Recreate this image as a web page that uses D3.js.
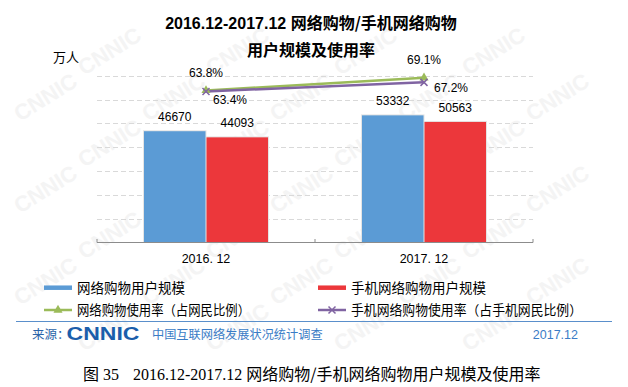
<!DOCTYPE html>
<html lang="zh">
<head>
  <meta charset="utf-8">
  <title>网络购物/手机网络购物用户规模及使用率</title>
  <script src="https://d3js.org/d3.v7.min.js" charset="utf-8"></script>
  <style type="text/css">
    body { margin: 0; background: #fff; }
    text { font-family: "Liberation Sans", Arial, "Noto Sans CJK SC", sans-serif; }
    .cjk { font-family: "Noto Sans CJK SC", sans-serif; }
  </style>
</head>
<body>
  <svg id="chart" width="628" height="387" xmlns="http://www.w3.org/2000/svg"></svg>
  <script type="text/javascript">
    // data
    var categories = ['2016. 12', '2017. 12'];
    var barSeries = ['网络购物用户规模', '手机网络购物用户规模'];
    var shopUsers = [46670, 53332];
    var mobileShopUsers = [44093, 50563];
    var lineSeries = ['网络购物使用率（占网民比例）', '手机网络购物使用率（占手机网民比例）'];
    var shopRate = [63.8, 69.1];
    var mobileShopRate = [63.4, 67.2];
    var yTicks = [0, 10000, 20000, 30000, 40000, 50000, 60000, 70000];

    var barColors = ['#5b9bd5', '#ec373b'];
    var lineColors = ['#9bbb59', '#8064a2'];

    var svg = d3.select('#chart');

    // watermark, only the copies that sit fully inside the picture
    var wm = svg.append('g');
    for (var r = -1; r < 10; r++) {
      for (var c = -1; c < 6; c++) {
        var wx = c * 128 + (r % 2 ? 64 : 0) + 20;
        var wy = r * 46 + 30;
        var t = wm.append('text')
          .attr('transform', 'translate(' + wx + ',' + wy + ') rotate(-32)')
          .attr('font-size', '22px')
          .attr('font-weight', 'bold')
          .style('fill', '#f4f4f4')
          .text('CNNIC');
        var b = t.node().getBoundingClientRect();
        if (b.left < 0 || b.top < 0 || b.right > 628 || b.bottom > 387) t.remove();
      }
    }

    var x0 = d3.scaleBand().domain(categories).range([97, 533]);
    var groupW = 124;
    var x1 = d3.scaleBand().domain(barSeries).range([0, groupW]).paddingInner(0.016);
    var y = d3.scaleLinear().domain([0, 70000]).range([242.3, 75.7]);
    var y2 = d3.scaleLinear().domain([0, 70]).range([242.3, 75.7]);

    // grid
    svg.append('g').selectAll('line')
      .data(yTicks.slice(1))
      .enter().append('line')
      .attr('x1', 97).attr('x2', 533)
      .attr('y1', function(d) { return Math.round(y(d)) + 0.5; })
      .attr('y2', function(d) { return Math.round(y(d)) + 0.5; })
      .style('stroke', '#d9d9d9')
      .style('stroke-dasharray', '5,3');

    // bars
    var barData = [shopUsers, mobileShopUsers];
    var groups = svg.append('g').selectAll('g')
      .data(categories)
      .enter().append('g')
      .attr('transform', function(d) { return 'translate(' + (x0(d) + (x0.bandwidth() - groupW) / 2) + ',0)'; });

    function rows(d, i) {
      return barSeries.map(function(s, j) { return { s: s, v: barData[j][i], j: j }; });
    }

    groups.selectAll('rect.shadow')
      .data(rows)
      .enter().append('rect')
      .attr('x', function(d) { return x1(d.s) - 1; })
      .attr('y', function(d) { return y(d.v) - 1; })
      .attr('width', x1.bandwidth() + 2)
      .attr('height', function(d) { return y(0) - y(d.v) + 1; })
      .style('fill', '#e4e4e4');

    groups.selectAll('rect.bar')
      .data(rows)
      .enter().append('rect')
      .attr('x', function(d) { return x1(d.s); })
      .attr('y', function(d) { return y(d.v); })
      .attr('width', x1.bandwidth())
      .attr('height', function(d) { return y(0) - y(d.v); })
      .style('fill', function(d) { return barColors[d.j]; });

    groups.selectAll('text.val')
      .data(rows)
      .enter().append('text')
      .attr('x', function(d) { return x1(d.s) + x1.bandwidth() / 2; })
      .attr('y', function(d) { return y(d.v) - 10; })
      .attr('text-anchor', 'middle')
      .attr('font-size', '12px')
      .style('fill', '#000')
      .text(function(d) { return d.v; });

    // axis
    var axisG = svg.append('g').attr('transform', 'translate(0,' + 242.5 + ')');
    axisG.append('line').attr('x1', 97).attr('x2', 533).style('stroke', '#8c8c8c').style('stroke-width', 1.2);
    axisG.selectAll('line.tick')
      .data([97, x0(categories[1]), 533])
      .enter().append('line')
      .attr('x1', function(d) { return d; }).attr('x2', function(d) { return d; })
      .attr('y1', -3.5).attr('y2', 0)
      .style('stroke', '#8c8c8c');
    axisG.selectAll('text')
      .data(categories)
      .enter().append('text')
      .attr('x', function(d) { return x0(d) + x0.bandwidth() / 2; })
      .attr('y', 20)
      .attr('text-anchor', 'middle')
      .attr('font-size', '12.5px')
      .style('fill', '#000')
      .text(function(d) { return d; });

    // lines
    var lineData = [shopRate, mobileShopRate];
    var line = d3.line()
      .x(function(d, i) { return x0(categories[i]) + x0.bandwidth() / 2; })
      .y(function(d) { return y2(d); });
    lineData.forEach(function(vals, j) {
      svg.append('path')
        .attr('d', line(vals))
        .style('fill', 'none')
        .style('stroke', lineColors[j])
        .style('stroke-width', 2.5);
    });

    function marker(g, j, cx, cy) {
      if (j === 0) {
        g.append('path')
          .attr('d', d3.symbol().type(d3.symbolTriangle).size(36)())
          .attr('transform', 'translate(' + cx + ',' + cy + ')')
          .style('fill', lineColors[0]);
      } else {
        g.append('path')
          .attr('d', 'M-3.5,-3.5L3.5,3.5M-3.5,3.5L3.5,-3.5')
          .attr('transform', 'translate(' + cx + ',' + cy + ')')
          .style('stroke', lineColors[1])
          .style('stroke-width', 1.5);
      }
    }
    var mk = svg.append('g');
    lineData.forEach(function(vals, j) {
      vals.forEach(function(v, i) {
        marker(mk, j, x0(categories[i]) + x0.bandwidth() / 2, y2(v));
      });
    });

    // rate labels: green above, purple below-right
    var lab = svg.append('g').attr('font-size', '12px').style('fill', '#000');
    shopRate.forEach(function(v, i) {
      lab.append('text')
        .attr('x', x0(categories[i]) + x0.bandwidth() / 2)
        .attr('y', y2(v) - 13.5)
        .attr('text-anchor', 'middle')
        .text(v.toFixed(1) + '%');
    });
    mobileShopRate.forEach(function(v, i) {
      lab.append('text')
        .attr('x', x0(categories[i]) + x0.bandwidth() / 2 + (i === 0 ? 7 : 10))
        .attr('y', y2(v) + (i === 0 ? 12.6 : 10))
        .text(v.toFixed(1) + '%');
    });

    // titles
    var title = svg.append('g').style('fill', '#000').attr('font-weight', 'bold').attr('font-size', '16px');
    var t1 = title.append('text').attr('x', 311).attr('y', 29).attr('text-anchor', 'middle');
    t1.append('tspan').text('2016.12-2017.12 ');
    t1.append('tspan').attr('class', 'cjk').text('网络购物/手机网络购物');
    title.append('text').attr('class', 'cjk').attr('x', 311).attr('y', 56).attr('text-anchor', 'middle').text('用户规模及使用率');

    svg.append('text').attr('class', 'cjk').attr('x', 53).attr('y', 62)
      .attr('font-size', '13px').style('fill', '#000').text('万人');

    // legend
    var legPos = [[44, 287.7], [318, 287.7], [44, 310], [318, 310]];
    var leg = svg.append('g');
    barSeries.forEach(function(s, j) {
      var p = legPos[j];
      leg.append('line').attr('x1', p[0]).attr('x2', p[0] + 28).attr('y1', p[1]).attr('y2', p[1])
        .style('stroke', barColors[j]).style('stroke-width', 4.5);
      leg.append('text').attr('class', 'cjk').attr('x', p[0] + 33).attr('y', p[1] + 4.8)
        .attr('font-size', '13.5px').style('fill', '#000').text(s);
    });
    lineSeries.forEach(function(s, j) {
      var p = legPos[j + 2];
      leg.append('line').attr('x1', p[0]).attr('x2', p[0] + 28).attr('y1', p[1]).attr('y2', p[1])
        .style('stroke', lineColors[j]).style('stroke-width', 2.5);
      marker(leg, j, p[0] + 14, p[1]);
      leg.append('text').attr('class', 'cjk').attr('x', p[0] + 33).attr('y', p[1] + 4.8)
        .attr('font-size', '13.5px').style('fill', '#000')
        .attr('textLength', j === 0 ? 173 : 231).attr('lengthAdjust', 'spacingAndGlyphs')
        .text(s);
    });

    // source row
    svg.append('line').attr('x1', 16).attr('x2', 612).attr('y1', 321.5).attr('y2', 321.5)
      .style('stroke', '#5a8fcb').style('stroke-width', 1.2);
    svg.append('text').attr('class', 'cjk').attr('x', 32).attr('y', 338.5)
      .attr('font-size', '12.5px').style('fill', '#2a63a8').text('来源：');
    svg.append('text').attr('x', 66.5).attr('y', 340).attr('font-size', '18.5px').attr('font-weight', 'bold')
      .attr('textLength', 73).attr('lengthAdjust', 'spacingAndGlyphs')
      .style('fill', '#1b5eab').text('CNNIC');
    svg.append('text').attr('class', 'cjk').attr('x', 152).attr('y', 338.5)
      .attr('font-size', '12.2px').style('fill', '#3a7cc6').text('中国互联网络发展状况统计调查');
    svg.append('text').attr('x', 578).attr('y', 338.5).attr('text-anchor', 'end')
      .attr('font-size', '12.5px').style('fill', '#3a7cc6').text('2017.12');

    // caption
    var cap = svg.append('text').attr('x', 83).attr('y', 380).attr('font-size', '16px').style('fill', '#000')
      .style('font-family', '"Liberation Serif", "Noto Sans CJK SC", serif');
    cap.append('tspan').attr('class', 'cjk').text('图');
    cap.append('tspan').text(' 35');
    cap.append('tspan').attr('x', 133).text('2016.12-2017.12 ');
    cap.append('tspan').attr('class', 'cjk').text('网络购物/手机网络购物用户规模及使用率');
  </script>
</body>
</html>
